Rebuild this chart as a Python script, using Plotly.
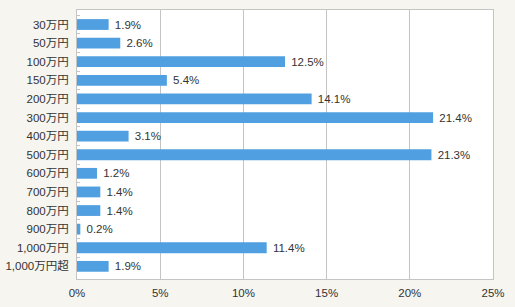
import plotly.graph_objects as go

categories = ["30万円", "50万円", "100万円", "150万円", "200万円", "300万円", "400万円",
              "500万円", "600万円", "700万円", "800万円", "900万円", "1,000万円", "1,000万円超"]
values = [1.9, 2.6, 12.5, 5.4, 14.1, 21.4, 3.1, 21.3, 1.2, 1.4, 1.4, 0.2, 11.4, 1.9]
labels = [f"\u00a0{v:.1f}%" for v in values]
x_ticks = [0, 5, 10, 15, 20, 25]

FONT = "Liberation Sans, Arial, Noto Sans CJK JP"

fig = go.Figure(go.Bar(
    x=values, y=categories, orientation="h",
    marker=dict(color="#509fe1", line=dict(width=0)),
    width=0.58,
    text=labels, textposition="outside", cliponaxis=False,
    constraintext="none",
    textfont=dict(size=11.5, color="#333333", family=FONT),
))

fig.update_layout(
    width=515, height=307,
    margin=dict(l=77, r=22, t=10, b=28),
    paper_bgcolor="#f6f5ef", plot_bgcolor="#ffffff",
    font=dict(family=FONT, size=11, color="#333333"),
    showlegend=False,
    uniformtext=dict(minsize=11, mode="show"),
)
fig.update_xaxes(
    range=[0, 25], tickvals=x_ticks, ticktext=[f"{t}%" for t in x_ticks],
    showgrid=True, gridcolor="#c4c4c4", gridwidth=1,
    showline=True, linecolor="#c4c4c4", linewidth=1, mirror=True,
    zeroline=False, ticks="", fixedrange=True, ticklabelstandoff=3,
    tickfont=dict(size=11.5), automargin=False,
)
fig.update_yaxes(
    range=[13.68, -0.78], showgrid=False,
    showline=True, linecolor="#c4c4c4", linewidth=1, mirror=True,
    ticks="inside", tickson="boundaries", ticklen=3, tickcolor="#c4c4c4",
    ticklabelstandoff=5, tickfont=dict(size=11.5), automargin=False,
)

fig.write_html("out.html")
